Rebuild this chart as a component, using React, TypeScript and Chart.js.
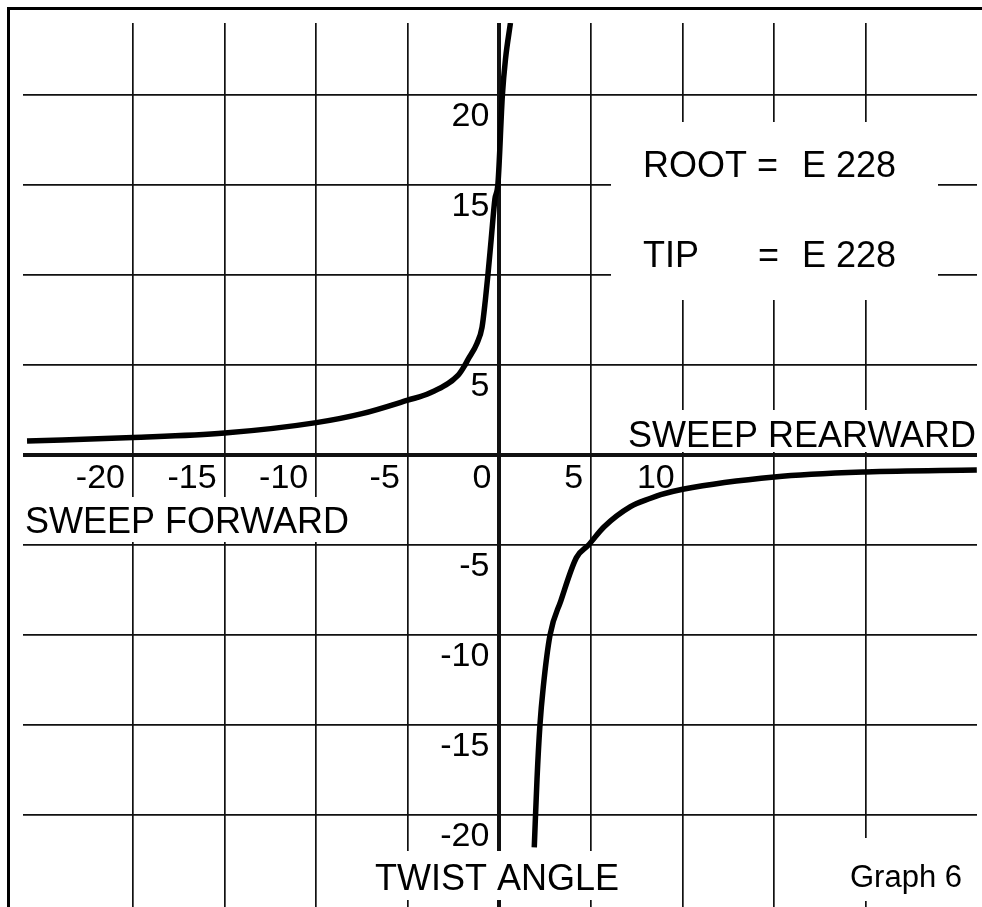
import React, { useEffect, useRef } from 'react';
import { Chart, registerables } from 'chart.js';

Chart.register(...registerables);

// ---- data ----
const LEFT_X = [-25.78, -20, -15, -10, -7.5, -5, -3.8, -2.25, -1.88, -1.72, -1.23, -0.95, -0.77, -0.63, -0.45, -0.25, -0.08, 0.16, 0.33, 0.6];
const LEFT_Y = [0.78, 0.97, 1.22, 1.8, 2.3, 3.05, 3.44, 4.44, 5.0, 5.3, 6.2, 7.1, 8.6, 10, 12, 14.2, 15.1, 20, 22, 24];

const RIGHT_X = [1.9, 2.05, 2.21, 2.39, 2.76, 3.35, 4.2, 4.86, 5.7, 7.15, 8.25, 8.8, 10, 15, 20, 26.05];
const RIGHT_Y = [-21.8, -18, -15, -12.9, -10, -8.1, -5.7, -5.0, -4.0, -2.87, -2.4, -2.2, -1.9, -1.22, -0.94, -0.83];

const X_GRID = [-20, -15, -10, -5, 0, 5, 10, 15, 20];
const Y_GRID = [-20, -15, -10, -5, 0, 5, 10, 15, 20];
const X_LABELS = [-20, -15, -10, -5, 0, 5, 10];
const Y_LABELS = [20, 15, 5, -5, -10, -15, -20];

const ROOT_LABEL = ['ROOT', '=', 'E 228'];
const TIP_LABEL = ['TIP', '=', 'E 228'];
const X_POS_TITLE = 'SWEEP REARWARD';
const X_NEG_TITLE = 'SWEEP FORWARD';
const Y_TITLE = 'TWIST ANGLE';
const GRAPH_NAME = 'Graph 6';

const FONT = '"Liberation Sans", Arial, Helvetica, sans-serif';

const decorPlugin = {
  id: 'decor',
  beforeDraw(chart: any) {
    const { ctx, width, height } = chart;
    ctx.save();
    ctx.fillStyle = '#fff';
    ctx.fillRect(0, 0, width, height);
    ctx.strokeStyle = '#000';
    ctx.lineWidth = 3;
    ctx.beginPath();
    ctx.moveTo(8.5, 910);
    ctx.lineTo(8.5, 8.5);
    ctx.lineTo(982, 8.5);
    ctx.stroke();
    ctx.restore();
  },
  beforeDatasetsDraw(chart: any) {
    const ctx = chart.ctx;
    ctx.save();
    // white backgrounds behind annotation texts (interrupt the grid)
    ctx.fillStyle = '#fff';
    const boxes: [number, number, number, number][] = [
      [611, 122, 327, 178],
      [620, 410, 362, 42],
      [22, 497, 332, 45],
      [368, 851, 257, 49],
      [840, 838, 140, 63],
    ];
    boxes.forEach(([x, y, w, h]) => ctx.fillRect(x, y, w, h));

    ctx.fillStyle = '#000';
    ctx.textAlign = 'left';
    ctx.textBaseline = 'alphabetic';
    ctx.font = `36px ${FONT}`;
    ctx.fillText(ROOT_LABEL[0], 643, 177);
    ctx.fillText(ROOT_LABEL[1], 757, 177);
    ctx.fillText(ROOT_LABEL[2], 802, 177);
    ctx.fillText(TIP_LABEL[0], 643, 267);
    ctx.fillText(TIP_LABEL[1], 758, 267);
    ctx.fillText(TIP_LABEL[2], 802, 267);
    ctx.fillText(X_POS_TITLE, 628, 447);
    ctx.fillText(X_NEG_TITLE, 25, 533);
    ctx.fillText(Y_TITLE, 375, 890);
    ctx.font = `31px ${FONT}`;
    ctx.fillText(GRAPH_NAME, 850, 887);
    ctx.restore();
  },
};

export default function App() {
  const ref = useRef<HTMLCanvasElement>(null);

  useEffect(() => {
    document.body.style.margin = '0';
    const canvas = ref.current;
    if (!canvas) return;

    const left = LEFT_X.map((x, i) => ({ x, y: LEFT_Y[i] }));
    const right = RIGHT_X.map((x, i) => ({ x, y: RIGHT_Y[i] }));

    const lineStyle = {
      showLine: true,
      borderColor: '#000',
      backgroundColor: '#000',
      borderWidth: 5.5,
      pointRadius: 0,
      cubicInterpolationMode: 'monotone' as const,
      fill: false,
      borderJoinStyle: 'round' as const,
    };

    const gridWidth = (c: any) => (c.tick && c.tick.value === 0 ? 4 : 1.7);

    const chart = new Chart(canvas, {
      type: 'scatter',
      data: {
        datasets: [
          { label: 'forward', data: left, ...lineStyle },
          { label: 'rearward', data: right, ...lineStyle },
        ],
      },
      options: {
        responsive: false,
        animation: false,
        events: [],
        layout: { padding: { left: 23, top: 23, right: 5, bottom: 53 } },
        plugins: {
          legend: { display: false },
          tooltip: { enabled: false },
          title: { display: false },
        },
        scales: {
          x: {
            type: 'linear',
            min: -26,
            max: 26.06,
            position: { y: 0 } as any,
            afterBuildTicks: (axis: any) => {
              axis.ticks = X_GRID.map((v) => ({ value: v }));
            },
            grid: { color: '#111', lineWidth: gridWidth, drawTicks: false },
            border: { display: false },
            ticks: {
              autoSkip: false,
              maxRotation: 0,
              minRotation: 0,
              align: 'end',
              labelOffset: -8,
              padding: 3,
              color: '#000',
              font: { family: FONT, size: 34 },
              callback: (v: any) => (X_LABELS.includes(Number(v)) ? String(v) : ''),
            },
          },
          y: {
            type: 'linear',
            min: -25.11,
            max: 24,
            position: { x: -0.55 } as any,
            afterBuildTicks: (axis: any) => {
              axis.ticks = Y_GRID.map((v) => ({ value: v }));
            },
            grid: { color: '#111', lineWidth: gridWidth, drawTicks: false },
            border: { display: false },
            ticks: {
              autoSkip: false,
              labelOffset: 22,
              padding: 0,
              color: '#000',
              font: { family: FONT, size: 34 },
              callback: (v: any) => (Y_LABELS.includes(Number(v)) ? String(v) : ''),
            },
          },
        },
      },
      plugins: [decorPlugin],
    });

    return () => chart.destroy();
  }, []);

  return (
    <div style={{ width: 982, height: 907, overflow: 'hidden', background: '#fff' }}>
      <canvas ref={ref} width={982} height={960} style={{ display: 'block' }} />
    </div>
  );
}
